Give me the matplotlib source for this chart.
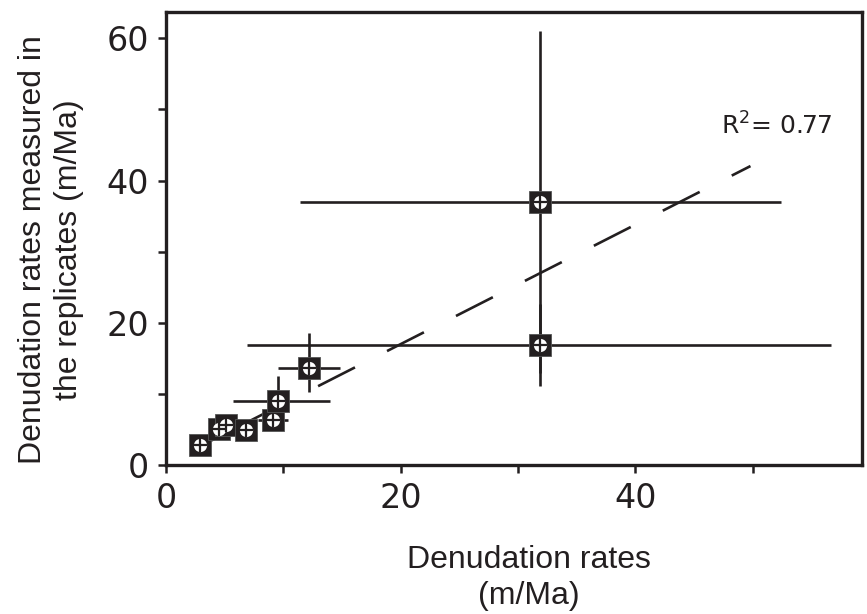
import matplotlib
matplotlib.use("Agg")
import matplotlib.pyplot as plt
import numpy as np

# denudation rates (x) vs replicates (y), m/Ma
x = [2.9, 4.5, 5.1, 6.8, 9.1, 9.5, 12.2, 31.9, 31.9]
y = [2.8, 5.1, 5.6, 4.9, 6.3, 9.0, 13.7, 37.0, 16.9]
xerr_lo = [0, 0, 0, 0, 1.3, 3.8, 2.7, 20.5, 25.0]
xerr_hi = [0, 0, 0, 0, 1.3, 4.5, 2.6, 20.5, 24.8]
yerr_lo = [0, 0, 0, 0, 0, 1.3, 3.4, 24.0, 5.8]
yerr_hi = [0, 0, 0, 0, 0, 3.5, 4.8, 24.0, 5.8]

# regression line
slope = 0.84
intercept = 0.2
fit_x = [3.0, 49.8]
r2_label = r"R$^2$= 0.77"

ink = "#231f20"
plt.rcParams["mathtext.fontset"] = "dejavusans"
plt.rcParams["lines.scale_dashes"] = False

fig = plt.figure(figsize=(8.67, 6.14), dpi=100)
ax = fig.add_axes([0.1915, 0.2427, 0.8027, 0.7378])

fx = np.array(fit_x)
ax.plot(fx, intercept + slope * fx, color=ink, lw=1.9,
        linestyle=(17, (29.8, 25.9)), zorder=2, solid_capstyle="butt",
        dash_capstyle="butt")

ax.errorbar(x, y, xerr=[xerr_lo, xerr_hi], yerr=[yerr_lo, yerr_hi],
            fmt="none", ecolor=ink, elinewidth=1.9, capsize=0, zorder=3)

ax.plot(x, y, "s", ms=16.5, mfc=ink, mec="#555555", mew=0.6, ls="none", zorder=4)
ax.plot(x, y, "o", ms=9.5, mfc="white", mec="white", mew=0, ls="none", zorder=5)
ax.plot(x, y, "+", ms=9.5, mec=ink, mew=1.6, ls="none", zorder=6)

ax.text(47.3, 46.5, r2_label, fontsize=18, color=ink, family="DejaVu Sans")

ax.set_xlim(0, 59.3)
ax.set_ylim(0, 63.7)
ax.set_xticks([0, 20, 40])
ax.set_xticks([10, 30, 50], minor=True)
ax.set_yticks([0, 20, 40, 60])
ax.set_yticks([10, 30, 50], minor=True)
ax.tick_params(which="both", direction="out", length=6, width=1.8, color=ink)
ax.tick_params(axis="both", labelsize=24, labelcolor=ink)
ax.tick_params(axis="x", pad=6)
ax.tick_params(axis="y", pad=6)
for s in ax.spines.values():
    s.set_linewidth(2.4)
    s.set_color(ink)

lab_font = dict(family=["Liberation Sans", "DejaVu Sans"], fontsize=23,
                color=ink, linespacing=1.25)
fig.text(529 / 867, 1 - 578 / 614, "Denudation rates\n(m/Ma)",
         ha="center", va="center", multialignment="center", **lab_font)
fig.text(51 / 867, 1 - 250 / 614,
         "Denudation rates measured in\nthe replicates (m/Ma)",
         ha="center", va="center", rotation=90, multialignment="center",
         **lab_font)

fig.savefig("out.png", dpi=100)
